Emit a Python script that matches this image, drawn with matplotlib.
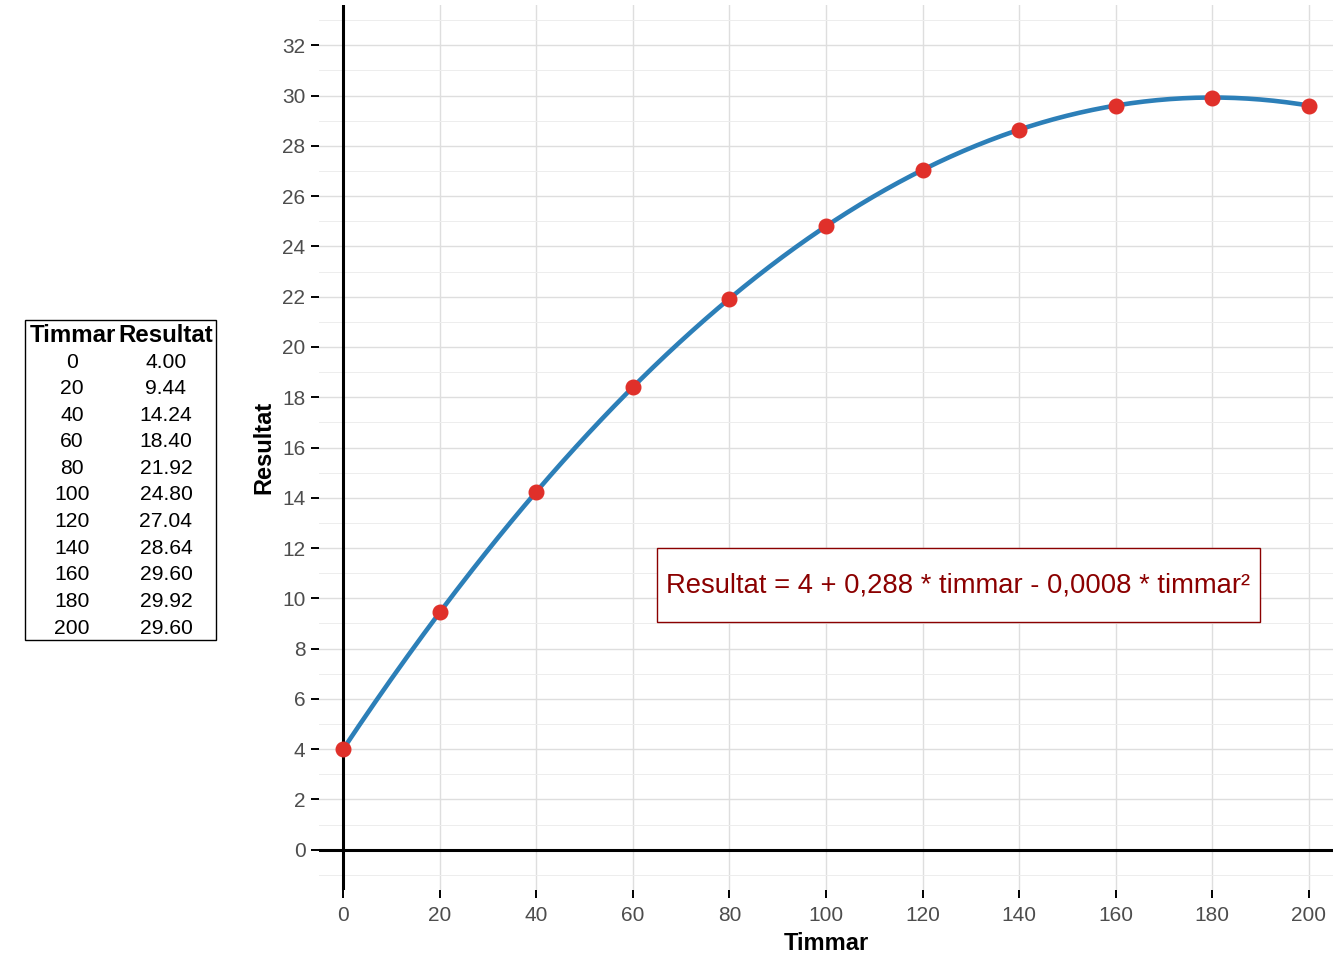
import numpy as np
import matplotlib
matplotlib.use('Agg')
import matplotlib.pyplot as plt
from matplotlib.patches import Rectangle

# data
timmar = [0, 20, 40, 60, 80, 100, 120, 140, 160, 180, 200]
resultat = [4.00, 9.44, 14.24, 18.40, 21.92, 24.80, 27.04, 28.64, 29.60, 29.92, 29.60]
x_ticks = [0, 20, 40, 60, 80, 100, 120, 140, 160, 180, 200]
y_ticks = [0, 2, 4, 6, 8, 10, 12, 14, 16, 18, 20, 22, 24, 26, 28, 30, 32]
formula_text = 'Resultat = 4 + 0,288 * timmar - 0,0008 * timmar²'

plt.rcParams['font.family'] = ['Liberation Sans', 'DejaVu Sans']

W, H = 1344, 960
fig = plt.figure(figsize=(W / 100, H / 100), dpi=100)

def fx(px):
    return px / W

def fy(py):
    return 1 - py / H

ax = fig.add_axes([fx(319), fy(890), fx(1333) - fx(319), fy(5) - fy(890)])
ax.set_xlim(-5, 205)
ax.set_ylim(-1.6, 33.6)

for s in ax.spines.values():
    s.set_visible(False)

ax.set_xticks(x_ticks)
ax.set_yticks(y_ticks)
ax.set_xticks(np.arange(-10, 211, 10)[1::2], minor=True)
ax.set_yticks(np.arange(-1, 34, 2), minor=True)
ax.tick_params(which='major', length=5.8, width=1.4, color='black',
               labelsize=15, labelcolor='#4D4D4D', pad=4)
ax.tick_params(axis='x', which='major', pad=6)
ax.tick_params(which='minor', length=0)
ax.grid(which='major', color='#DEDEDE', lw=1.0)
ax.grid(which='minor', color='#EDEDED', lw=0.7)
ax.set_axisbelow(True)

ax.axhline(0, color='black', lw=2.2, zorder=2)
ax.axvline(0, color='black', lw=2.2, zorder=2)

# fitted quadratic through the points
coef = np.polyfit(timmar, resultat, 2)
xs = np.linspace(min(timmar), max(timmar), 300)
ax.plot(xs, np.polyval(coef, xs), color='#2C7FB8', lw=3.3, zorder=3,
        solid_capstyle='round')
ax.plot(timmar, resultat, 'o', color='#E0302A', markersize=10.5, zorder=4)

ax.set_xlabel('Timmar', fontsize=17, fontweight='bold', labelpad=5)
ax.set_ylabel('Resultat', fontsize=17, fontweight='bold', labelpad=5)

# formula box
ax.add_patch(Rectangle((65.0, 9.05), 124.9, 2.97, facecolor='white',
                       edgecolor='#8B0000', lw=1.0, zorder=5))
ax.text(127.4, 10.5, formula_text, color='#8B0000', fontsize=19.7,
        ha='center', va='center', zorder=6)

# table on the left
fig.patches.append(Rectangle((fx(25), fy(640)), fx(216) - fx(25), fy(320) - fy(640),
                             transform=fig.transFigure, facecolor='none',
                             edgecolor='black', lw=1.0))
fig.text(fx(73), fy(336), 'Timmar', fontsize=17.3, fontweight='bold',
         ha='center', va='center')
fig.text(fx(166), fy(336), 'Resultat', fontsize=17.3, fontweight='bold',
         ha='center', va='center')
for i, (t, r) in enumerate(zip(timmar, resultat)):
    yy = 362 + i * 26.6
    fig.text(fx(72), fy(yy), str(t), fontsize=15.2, ha='center', va='center')
    fig.text(fx(166), fy(yy), '%.2f' % r, fontsize=15.2, ha='center', va='center')

fig.savefig('out.png', dpi=100)
